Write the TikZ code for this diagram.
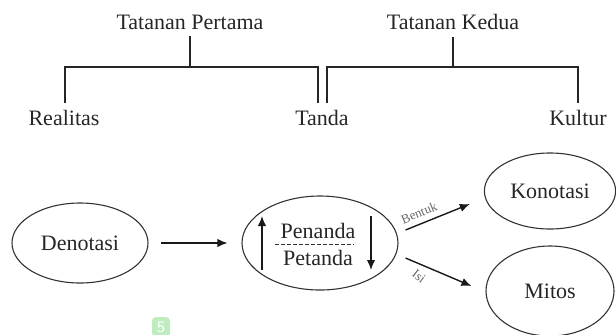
\documentclass[tikz,border=0pt]{standalone}
\usepackage{fontspec}
\setmainfont{Liberation Serif}
\usepackage{tikz}
\usetikzlibrary{positioning, calc, arrows, arrows.meta, shapes}

\tikzset{
  label/.style={font=\fontsize{11}{13}\selectfont, text=black!85},
  bracket/.style={line width=1.2pt, black!85},
  sign/.style={ellipse, draw=black!80, line width=0.55pt, font=\fontsize{11}{13}\selectfont, text=black!85},
  arrow/.style={-{Latex[length=5pt, width=4.2pt]}, line width=0.7pt, black!90},
  tiny/.style={font=\fontsize{6.5}{7}\selectfont, text=black!60},
  badge/.style={fill=green!70!black!25, rounded corners=2pt, text=white, minimum width=9pt, minimum height=10pt, inner sep=1pt, font=\fontsize{8}{9}\selectfont\sffamily}
}

\begin{document}
\begin{tikzpicture}[x=0.5pt, y=-0.5pt]

      \useasboundingbox (0,0) rectangle (616,334);

      % ORDERS AND TERMS

      \node[label] (pertama) at (190,22) {Tatanan Pertama};
      \node[label] (kedua) at (453,22) {Tatanan Kedua};

      \node[label] (realitas) at (64,118) {Realitas};
      \node[label] (tanda) at (322,118) {Tanda};
      \node[label] (kultur) at (578,118) {Kultur};

      \coordinate (lL) at (65,67);
      \coordinate (lR) at (318,67);
      \coordinate (rL) at (327,67);
      \coordinate (rR) at (578,67);

      % BRACKETS

      \draw[bracket] (lL |- realitas.north) -- (lL) -- (lR) -- (lR |- tanda.north);
      \draw[bracket] (pertama.south) -- (pertama.south |- lL);
      \draw[bracket] (rL |- tanda.north) -- (rL) -- (rR) -- (rR |- kultur.north);
      \draw[bracket] (kedua.south) -- (kedua.south |- rL);

      % SIGNS

      \node[sign, minimum width=68pt, minimum height=40pt] (denotasi) at (80,243) {Denotasi};
      \node[sign, minimum width=78pt, minimum height=47pt] (tandabox) at (320,243) {};
      \node[sign, minimum width=64pt, minimum height=38pt] (konotasi) at (550,191) {Konotasi};
      \node[sign, minimum width=64pt, minimum height=45pt] (mitos) at (550,291) {Mitos};

      \node[label] (penanda) at (318,231) {Penanda};
      \node[label] (petanda) at (318,258) {Petanda};
      \draw[dashed, line width=0.5pt, black!80, dash pattern=on 2pt off 1pt] (275,244) -- (354,244);

      % ARROWS

      \draw[arrow] ($(denotasi.east)+(12,0)$) -- ($(tandabox.west)+(-14,0)$);
      \draw[arrow] (262,270) -- (262,216);
      \draw[arrow] (371,216) -- (371,270);

      \draw[arrow] ($(tandabox.east)+(7,-13)$) -- ($(konotasi.west)+(-14,13)$);
      \draw[arrow] ($(tandabox.east)+(7,15)$) -- ($(mitos.west)+(-14,-5)$);

      \node[tiny, rotate=22] (bentuk) at (419,213) {Bentuk};
      \node[tiny, rotate=-38] (isi) at (419,276) {Isi};

      % PAGE MARK

      \node[badge] (halaman) at (161,327) {5};

    \end{tikzpicture}
\end{document}
